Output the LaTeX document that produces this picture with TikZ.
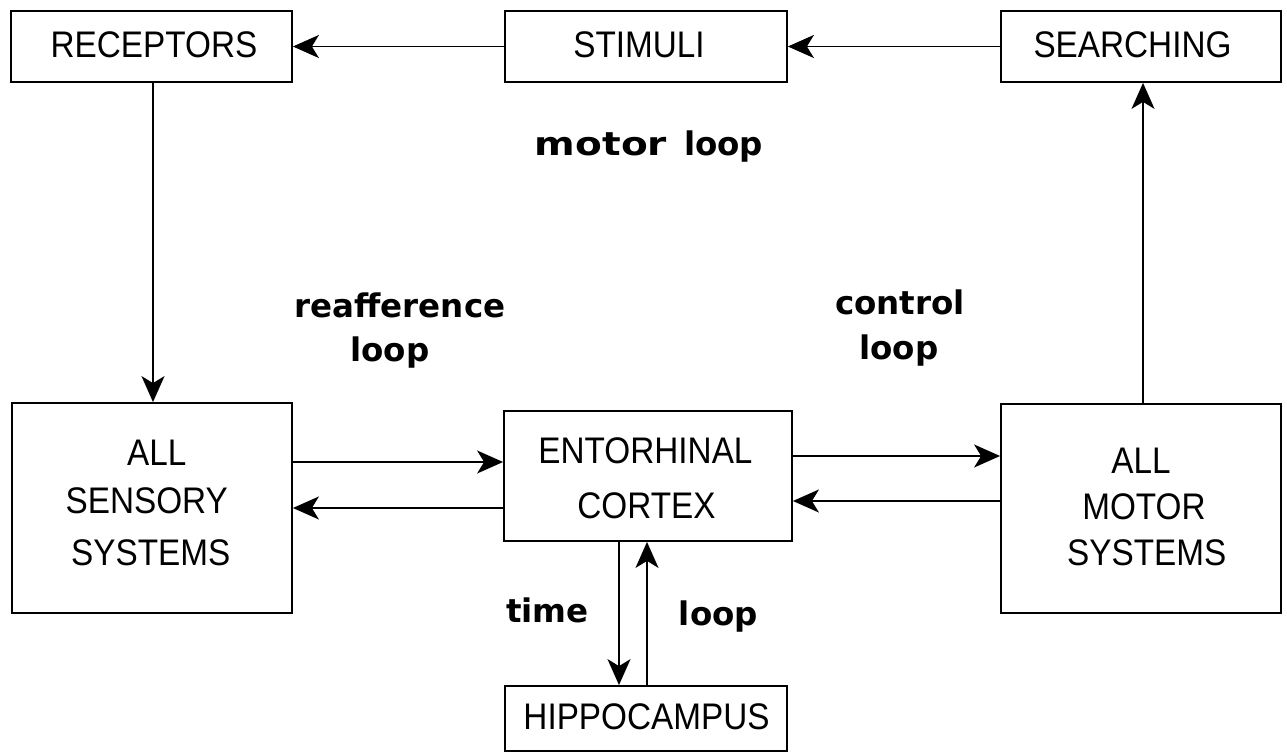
\documentclass[tikz,border=0pt]{standalone}
\usepackage{fontspec}
\newfontfamily\boxfont{Liberation Sans}[FakeStretch=0.9]
\newfontfamily\lblfont{DejaVu Sans}
\usetikzlibrary{arrows.meta}
\begin{document}
\begin{tikzpicture}[x=1pt,y=-1pt,
  box/.style={draw, line width=1.8pt, rectangle, inner sep=0pt},
  arr/.style={line width=1.8pt, -{Stealth[length=26pt,width=23pt,inset=7pt]}},
  boxtxt/.style={anchor=base, inner sep=0pt, font=\boxfont\fontsize{37}{37}\selectfont},
  lbl/.style={anchor=base, inner sep=0pt, font=\lblfont\bfseries\fontsize{32.5}{32.5}\selectfont}]
\useasboundingbox[fill=white] (0,0) rectangle (1287,752);

% boxes
\node[box, minimum width=281pt, minimum height=71pt] (rec) at (151.5,46.5) {};
\node[box, minimum width=282pt, minimum height=71pt] (stim) at (646,46.5) {};
\node[box, minimum width=280pt, minimum height=71pt] (search) at (1141,46.5) {};
\node[box, minimum width=280pt, minimum height=210pt] (sens) at (152,508) {};
\node[box, minimum width=288pt, minimum height=130pt] (ent) at (648,476) {};
\node[box, minimum width=280pt, minimum height=209pt] (mot) at (1141,508.5) {};
\node[box, minimum width=282pt, minimum height=65pt] (hip) at (646,718.5) {};

% box texts
\node[boxtxt] (trec) at (154,58) {RECEPTORS};
\node[boxtxt] (tstim) at (639,58) {STIMULI};
\node[boxtxt] (tsearch) at (1132.5,58) {SEARCHING};
\node[boxtxt] (tent1) at (645.5,463) {ENTORHINAL};
\node[boxtxt] (tent2) at (646.5,518) {CORTEX};
\node[boxtxt] (thip) at (646.5,729) {HIPPOCAMPUS};
\node[boxtxt] (ts1) at (156.7,465) {ALL};
\node[boxtxt] (ts2) at (146.7,513) {SENSORY};
\node[boxtxt] (ts3) at (150.8,565) {SYSTEMS};
\node[boxtxt] (tm1) at (1141,473) {ALL};
\node[boxtxt] (tm2) at (1144,519) {MOTOR};
\node[boxtxt] (tm3) at (1146.7,565) {SYSTEMS};

% loop labels
\node[lbl] (lmotor) at (649,155) {\scalebox{1.2}[1]{motor}\hspace{17pt}loop};
\node[lbl] (lreaf) at (400,317) {reafference};
\node[lbl] (lreafloop) at (390,361) {loop};
\node[lbl] (lctrl) at (900,314) {control};
\node[lbl] (lctrlloop) at (899,359) {loop};
\node[lbl] (ltime) at (547.5,622) {time};
\node[lbl] (ltimeloop) at (718.5,625) {loop};

% helper coordinates
\coordinate (ySA) at (0,462);
\coordinate (ySB) at (0,508);
\coordinate (yMA) at (0,456);
\coordinate (yMB) at (0,501);
\coordinate (xT) at (619,0);
\coordinate (xL) at (647,0);
\coordinate (xR) at (153,0);
\coordinate (xS) at (1143,0);

% connectors
\draw[arr] (stim.west) -- (rec.east);
\draw[arr] (search.west) -- (stim.east);
\draw[arr] (rec.south -| xR) -- (sens.north -| xR);
\draw[arr] (mot.north -| xS) -- (search.south -| xS);
\draw[arr] (sens.east |- ySA) -- (ent.west |- ySA);
\draw[arr] (ent.west |- ySB) -- (sens.east |- ySB);
\draw[arr] (ent.east |- yMA) -- (mot.west |- yMA);
\draw[arr] (mot.west |- yMB) -- (ent.east |- yMB);
\draw[arr] (ent.south -| xT) -- (hip.north -| xT);
\draw[arr] (hip.north -| xL) -- (ent.south -| xL);
\end{tikzpicture}
\end{document}
